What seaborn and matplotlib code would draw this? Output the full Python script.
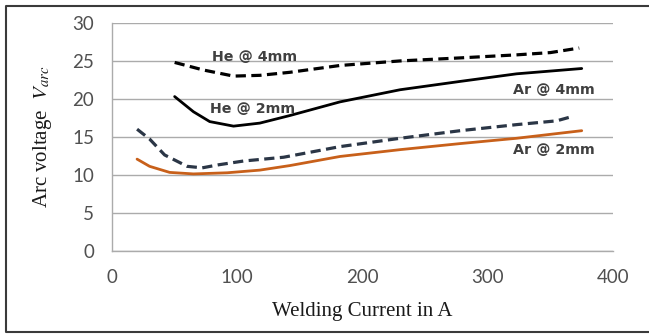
import matplotlib
matplotlib.use("Agg")
import matplotlib.pyplot as plt
from matplotlib.lines import Line2D
import seaborn as sns

# values (current in A, arc voltage in V)
he4_x = [50, 73, 97, 118, 142, 182, 230, 278, 323, 350, 373]
he4_y = [24.8, 23.8, 23.0, 23.1, 23.5, 24.4, 25.0, 25.4, 25.8, 26.1, 26.7]

he2_x = [50, 65, 78, 97, 118, 142, 182, 230, 278, 323, 375]
he2_y = [20.3, 18.3, 17.0, 16.4, 16.8, 17.8, 19.6, 21.2, 22.3, 23.3, 24.0]

ar4_x = [20, 30, 42, 60, 72, 85, 105, 137, 182, 230, 278, 323, 355, 368]
ar4_y = [16.0, 14.7, 12.6, 11.1, 10.9, 11.3, 11.8, 12.3, 13.7, 14.8, 15.8, 16.6, 17.1, 17.7]

ar2_x = [20, 30, 46, 65, 92, 118, 142, 182, 230, 278, 323, 375]
ar2_y = [12.05, 11.1, 10.3, 10.1, 10.25, 10.6, 11.2, 12.4, 13.3, 14.1, 14.8, 15.8]

labels = ["He @ 4mm", "He @ 2mm", "Ar @ 4mm", "Ar @ 2mm"]
label_x = [79.5, 78, 320, 320]
label_y = [25.5, 18.6, 21.2, 13.2]

x_ticks = [0, 100, 200, 300, 400]
y_ticks = [0, 5, 10, 15, 20, 25, 30]

sns.set_style("white")
plt.rcParams["font.family"] = ["Lato", "DejaVu Sans"]
plt.rcParams["mathtext.fontset"] = "stix"

fig = plt.figure(figsize=(6.49, 3.34), dpi=100)
ax = fig.add_axes([0.1726, 0.25, 0.772, 0.6811])

grid_c = "#ABABAB"
common = dict(solid_joinstyle="round", dash_joinstyle="round")
sns.lineplot(x=he4_x, y=he4_y, ax=ax, color="black", lw=2.3,
             linestyle=(0, (3.2, 1.7)), **common)
sns.lineplot(x=he2_x, y=he2_y, ax=ax, color="black", lw=2.0, **common)
sns.lineplot(x=ar4_x, y=ar4_y, ax=ax, color="#2B3646", lw=2.3,
             linestyle=(0, (3.2, 1.7)), **common)
sns.lineplot(x=ar2_x, y=ar2_y, ax=ax, color="#C8601A", lw=2.0, **common)

for t, tx, ty in zip(labels, label_x, label_y):
    ax.text(tx, ty, t, ha="left", va="center", fontsize=10.3,
            fontweight="bold", color="#404040", family="DejaVu Sans")

ax.set_xlim(0, 400)
ax.set_ylim(0, 30)
ax.set_xticks(x_ticks)
ax.set_yticks(y_ticks)
ax.yaxis.grid(True, color=grid_c, lw=1)
ax.xaxis.grid(False)
ax.tick_params(length=0, labelsize=13.5, labelcolor="#505050", pad=13)

for s in ["top", "right"]:
    ax.spines[s].set_visible(False)
for s in ["left", "bottom"]:
    ax.spines[s].set_color(grid_c)
    ax.spines[s].set_linewidth(1)

ax.set_xlabel("Welding Current in A", fontsize=15, family="Liberation Serif",
              color="#1a1a1a")
ax.set_ylabel("Arc voltage  $V_{arc}$", fontsize=15, family="Liberation Serif",
              color="#1a1a1a")
ax.xaxis.set_label_coords(0.5, -0.269)
ax.xaxis.label.set_va("center")
ax.yaxis.set_label_coords(-0.138, 0.5)
ax.yaxis.label.set_va("center")

# frame around the figure (left, top, bottom)
bc = "#3A3A3A"
fig.add_artist(Line2D([1.0, 0.010, 0.010, 1.0], [0.9835, 0.9835, 0.0045, 0.0045],
                      transform=fig.transFigure, color=bc, lw=1.5))

fig.savefig("out.png", dpi=100)
